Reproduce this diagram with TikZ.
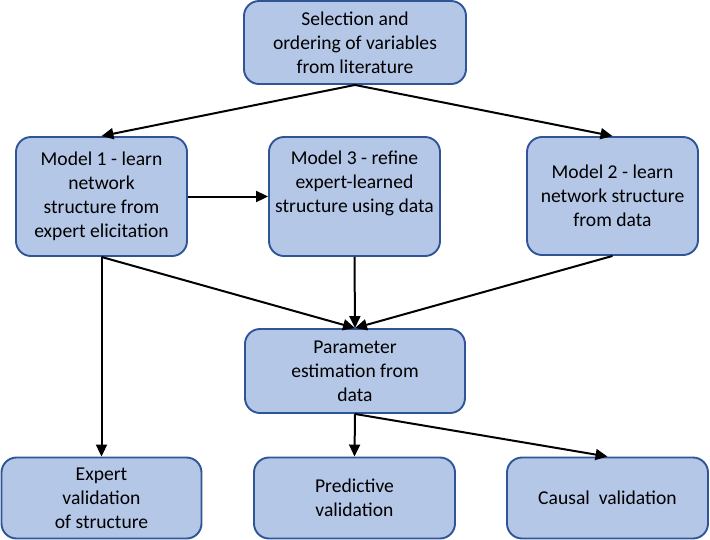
\documentclass[tikz,border=0pt]{standalone}
\usepackage{fontspec}
\setmainfont{Carlito}
\usetikzlibrary{arrows.meta}
\definecolor{boxfill}{HTML}{B4C7E7}
\definecolor{boxline}{HTML}{2F5597}
\begin{document}
\begin{tikzpicture}[x=1pt,y=-1pt,
  box/.style={draw=boxline, fill=boxfill, line width=1.9pt, rounded corners=15pt,
    align=center, inner sep=0pt, font=\fontsize{19.6}{24}\selectfont, text=black},
  arr/.style={draw=black, line width=2pt, -{Triangle[length=12pt,width=11pt]}}]
\useasboundingbox (0,0) rectangle (710,539);
\node[box, minimum width=222pt, minimum height=83pt] (top) at (355,42.5) {Selection and\\ordering of variables\\from literature};
\node[box, minimum width=171pt, minimum height=119pt] (m1) at (101.5,196.5) {Model 1 - learn\\network\\structure from\\expert elicitation};
\node[box, minimum width=171pt, minimum height=119pt] (m3) at (354.5,196.5) {Model 3 - refine\\expert-learned\\structure using data\\[6pt]};
\node[box, minimum width=171pt, minimum height=118pt] (m2) at (612.5,196) {Model 2 - learn\\network structure\\from data};
\node[box, minimum width=220pt, minimum height=84pt] (param) at (355,371) {Parameter\\estimation from\\data};
\node[box, minimum width=200pt, minimum height=81pt] (exp) at (101.5,498) {Expert\\validation\\of structure};
\node[box, minimum width=201pt, minimum height=81pt] (pred) at (354.5,498) {Predictive\\validation};
\node[box, minimum width=201pt, minimum height=81pt] (causal) at (607.5,498) {Causal\ \ validation};
\draw[arr] (top.south) -- (m1.north);
\draw[arr] (top.south) -- (m2.north);
\draw[arr] (m1.east) -- (m3.west);
\draw[arr] (m1.south) -- (param.north);
\draw[arr] (m1.south) -- (exp.north);
\draw[arr] (m3.south) -- (param.north);
\draw[arr] (m2.south) -- (param.north);
\draw[arr] (param.south) -- (pred.north);
\draw[arr] (param.south) -- (causal.north);
\end{tikzpicture}
\end{document}
